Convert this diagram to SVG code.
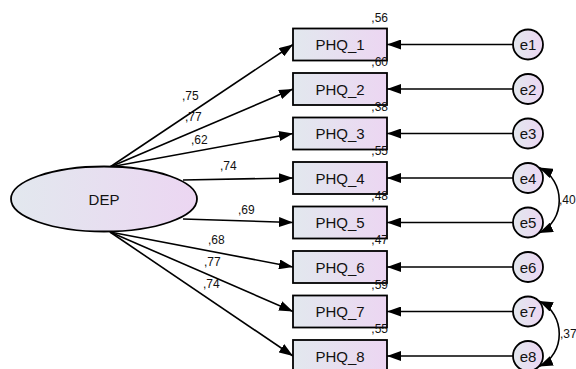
<svg xmlns="http://www.w3.org/2000/svg" width="576" height="369" viewBox="0 0 576 369">
<style>
.box{stroke:#000;stroke-width:1.8;fill:url(#g)}
.t{font-family:"Liberation Sans",Arial,sans-serif;font-size:15px;fill:#111;text-anchor:middle}
.s{font-family:"Liberation Sans",Arial,sans-serif;font-size:12px;fill:#111}
.e{text-anchor:end}
.ln{stroke:#000;stroke-width:1.6;fill:none;marker-end:url(#a)}
.cv{stroke:#000;stroke-width:1.6;fill:none;marker-start:url(#a);marker-end:url(#a)}
</style>
<defs>
<linearGradient id="g" x1="0" y1="0" x2="1" y2="0">
<stop offset="0" stop-color="#e2e8ee"/>
<stop offset="1" stop-color="#ecd6f2"/>
</linearGradient>
<marker id="a" viewBox="0 0 14 10" refX="14" refY="5" markerWidth="14" markerHeight="10" markerUnits="userSpaceOnUse" orient="auto-start-reverse">
<path d="M0,0 L14,5 L0,10 Z" fill="#000"/>
</marker>
</defs>
<g id="connectors">
<line class="ln" x1="110" y1="167" x2="293" y2="44.5"/>
<line class="ln" x1="110" y1="167" x2="293" y2="89"/>
<line class="ln" x1="110" y1="167" x2="293" y2="133.5"/>
<line class="ln" x1="183" y1="180" x2="293" y2="178"/>
<line class="ln" x1="183" y1="219" x2="293" y2="222.5"/>
<line class="ln" x1="110" y1="232" x2="293" y2="267"/>
<line class="ln" x1="110" y1="232" x2="293" y2="311.5"/>
<line class="ln" x1="110" y1="232" x2="293" y2="356"/>
<line class="ln" x1="513" y1="44.5" x2="387" y2="44.5"/>
<line class="ln" x1="513" y1="89" x2="387" y2="89"/>
<line class="ln" x1="513" y1="133.5" x2="387" y2="133.5"/>
<line class="ln" x1="513" y1="178" x2="387" y2="178"/>
<line class="ln" x1="513" y1="222.5" x2="387" y2="222.5"/>
<line class="ln" x1="513" y1="267" x2="387" y2="267"/>
<line class="ln" x1="513" y1="311.5" x2="387" y2="311.5"/>
<line class="ln" x1="513" y1="356" x2="387" y2="356"/>
<path class="cv" d="M539,167.5 C566,180 566,221 539,233"/>
<path class="cv" d="M539,301 C566,313.5 566,354.5 539,366.5"/>
<text class="s" x="182" y="100">,75</text>
<text class="s" x="185" y="121">,77</text>
<text class="s" x="191" y="143.5">,62</text>
<text class="s" x="220" y="170">,74</text>
<text class="s" x="238" y="214">,69</text>
<text class="s" x="208" y="243.5">,68</text>
<text class="s" x="204" y="266">,77</text>
<text class="s" x="203" y="287.5">,74</text>
<text class="s" x="559" y="204">,40</text>
<text class="s" x="560" y="338">,37</text>
</g>
<g id="DEP">
<ellipse cx="104" cy="199" rx="93" ry="32.5" class="box"/>
<text class="t" x="104" y="204.5">DEP</text>
</g>
<g id="PHQ_1"><rect class="box" x="293" y="28.5" width="94" height="32"/><text class="t" x="340" y="50">PHQ_1</text><text class="s e" x="388" y="21.5">,56</text></g>
<g id="PHQ_2"><rect class="box" x="293" y="73" width="94" height="32"/><text class="t" x="340" y="94.5">PHQ_2</text><text class="s e" x="388" y="66">,60</text></g>
<g id="PHQ_3"><rect class="box" x="293" y="117.5" width="94" height="32"/><text class="t" x="340" y="139">PHQ_3</text><text class="s e" x="388" y="110.5">,38</text></g>
<g id="PHQ_4"><rect class="box" x="293" y="162" width="94" height="32"/><text class="t" x="340" y="183.5">PHQ_4</text><text class="s e" x="388" y="155">,55</text></g>
<g id="PHQ_5"><rect class="box" x="293" y="206.5" width="94" height="32"/><text class="t" x="340" y="228">PHQ_5</text><text class="s e" x="388" y="199.5">,48</text></g>
<g id="PHQ_6"><rect class="box" x="293" y="251" width="94" height="32"/><text class="t" x="340" y="272.5">PHQ_6</text><text class="s e" x="388" y="244">,47</text></g>
<g id="PHQ_7"><rect class="box" x="293" y="295.5" width="94" height="32"/><text class="t" x="340" y="317">PHQ_7</text><text class="s e" x="388" y="288.5">,59</text></g>
<g id="PHQ_8"><rect class="box" x="293" y="340" width="94" height="32"/><text class="t" x="340" y="361.5">PHQ_8</text><text class="s e" x="388" y="333">,55</text></g>
<g id="e1"><circle class="box" cx="528" cy="44.5" r="15"/><text class="t" x="528" y="50">e1</text></g>
<g id="e2"><circle class="box" cx="528" cy="89" r="15"/><text class="t" x="528" y="94.5">e2</text></g>
<g id="e3"><circle class="box" cx="528" cy="133.5" r="15"/><text class="t" x="528" y="139">e3</text></g>
<g id="e4"><circle class="box" cx="528" cy="178" r="15"/><text class="t" x="528" y="183.5">e4</text></g>
<g id="e5"><circle class="box" cx="528" cy="222.5" r="15"/><text class="t" x="528" y="228">e5</text></g>
<g id="e6"><circle class="box" cx="528" cy="267" r="15"/><text class="t" x="528" y="272.5">e6</text></g>
<g id="e7"><circle class="box" cx="528" cy="311.5" r="15"/><text class="t" x="528" y="317">e7</text></g>
<g id="e8"><circle class="box" cx="528" cy="356" r="15"/><text class="t" x="528" y="361.5">e8</text></g>
</svg>
